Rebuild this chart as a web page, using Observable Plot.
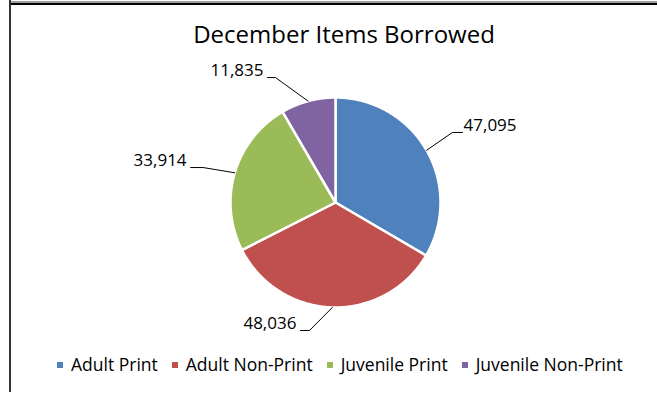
<!DOCTYPE html>
<html><head><meta charset="utf-8">
<script src="https://cdn.jsdelivr.net/npm/d3@7"></script>
<script src="https://cdn.jsdelivr.net/npm/@observablehq/plot@0.6"></script>
<style>
html,body{margin:0;padding:0;background:#fff;}
#chart{position:relative;width:657px;height:394px;overflow:hidden;font-family:"Open Sans",sans-serif;color:#000;}
#chart svg{position:absolute;left:0;top:0;}
.title{position:absolute;top:22px;left:344px;transform:translateX(-50%);font-size:24px;white-space:nowrap;line-height:1;}
.legend{position:absolute;top:356px;left:57px;display:flex;gap:14px;font-size:17.5px;white-space:nowrap;line-height:1;}
.legend .item{display:flex;align-items:center;gap:8px;}
.legend .sw{width:6px;height:6px;display:inline-block;}
.ft1{position:absolute;left:9px;right:0;top:1px;height:2px;background:#a0a0a0;}
.ft2{position:absolute;left:9px;right:0;top:3px;height:2px;background:#000;}
.fl{position:absolute;left:9px;top:0;width:2px;height:392px;background:#333;}
</style>
</head><body>
<div id="chart">
  <div class="ft1"></div><div class="ft2"></div><div class="fl"></div>
  <div class="title" id="title"></div>
  <div class="legend" id="legend"></div>
</div>
<script>
const title = "December Items Borrowed";
const categories = ["Adult Print", "Adult Non-Print", "Juvenile Print", "Juvenile Non-Print"];
const values = [47095, 48036, 33914, 11835];
const colors = ["#4F81BD", "#C0504D", "#9BBB59", "#8064A2"];

// label layout (in pie-radius units): elbow point and horizontal run of each leader line
const labelElbow = [[1.114, -0.667], [-0.248, 1.219], [-1.26, -0.333], [-0.571, -1.190]];
const labelRun = [0.096, -0.086, -0.12, -0.077];

document.getElementById("title").textContent = title;
const legend = document.getElementById("legend");
categories.forEach((c, i) => {
  const it = document.createElement("span"); it.className = "item";
  const sw = document.createElement("span"); sw.className = "sw"; sw.style.background = colors[i];
  const tx = document.createElement("span"); tx.textContent = c;
  it.append(sw, tx); legend.append(it);
});

const arcs = d3.pie().sort(null)(values);
const slicePts = arcs.flatMap((a, i) => {
  const n = Math.max(2, Math.ceil((a.endAngle - a.startAngle) / (Math.PI / 360)));
  const pts = [{k: categories[i], x: 0, y: 0}];
  for (let j = 0; j <= n; j++) {
    const t = a.startAngle + (a.endAngle - a.startAngle) * j / n;
    pts.push({k: categories[i], x: Math.sin(t), y: -Math.cos(t)});
  }
  return pts;
});
const leaders = arcs.flatMap((a, i) => {
  const m = (a.startAngle + a.endAngle) / 2;
  const [ex, ey] = labelElbow[i];
  return [
    {k: i, x: Math.sin(m), y: -Math.cos(m)},
    {k: i, x: ex, y: ey},
    {k: i, x: ex + labelRun[i], y: ey}
  ];
});
const labels = arcs.map((a, i) => ({
  x: labelElbow[i][0] + labelRun[i],
  y: labelElbow[i][1],
  text: d3.format(",")(a.value),
  right: labelRun[i] > 0
}));
const fmtRight = labels.filter(d => d.right), fmtLeft = labels.filter(d => !d.right);

const svg = Plot.plot({
  width: 657, height: 394, margin: 0,
  x: {domain: [-1, 1], range: [230, 440], axis: null},
  y: {domain: [-1, 1], range: [97, 307], axis: null},
  color: {domain: categories, range: colors},
  style: {fontFamily: "'Open Sans', sans-serif", fontSize: "17px", background: "transparent", color: "#000"},
  marks: [
    Plot.line(slicePts, {x: "x", y: "y", z: "k", fill: "k", stroke: "white", strokeWidth: 2.5, curve: "linear-closed"}),
    Plot.line(leaders, {x: "x", y: "y", z: "k", stroke: "#000", strokeWidth: 1}),
    Plot.text(fmtRight, {x: "x", y: "y", text: "text", textAnchor: "start", dx: 1, dy: -7, fill: "#000"}),
    Plot.text(fmtLeft, {x: "x", y: "y", text: "text", textAnchor: "end", dx: -4, dy: -7, fill: "#000"})
  ]
});
document.getElementById("chart").insertBefore(svg, document.getElementById("title"));
</script>
</body></html>
